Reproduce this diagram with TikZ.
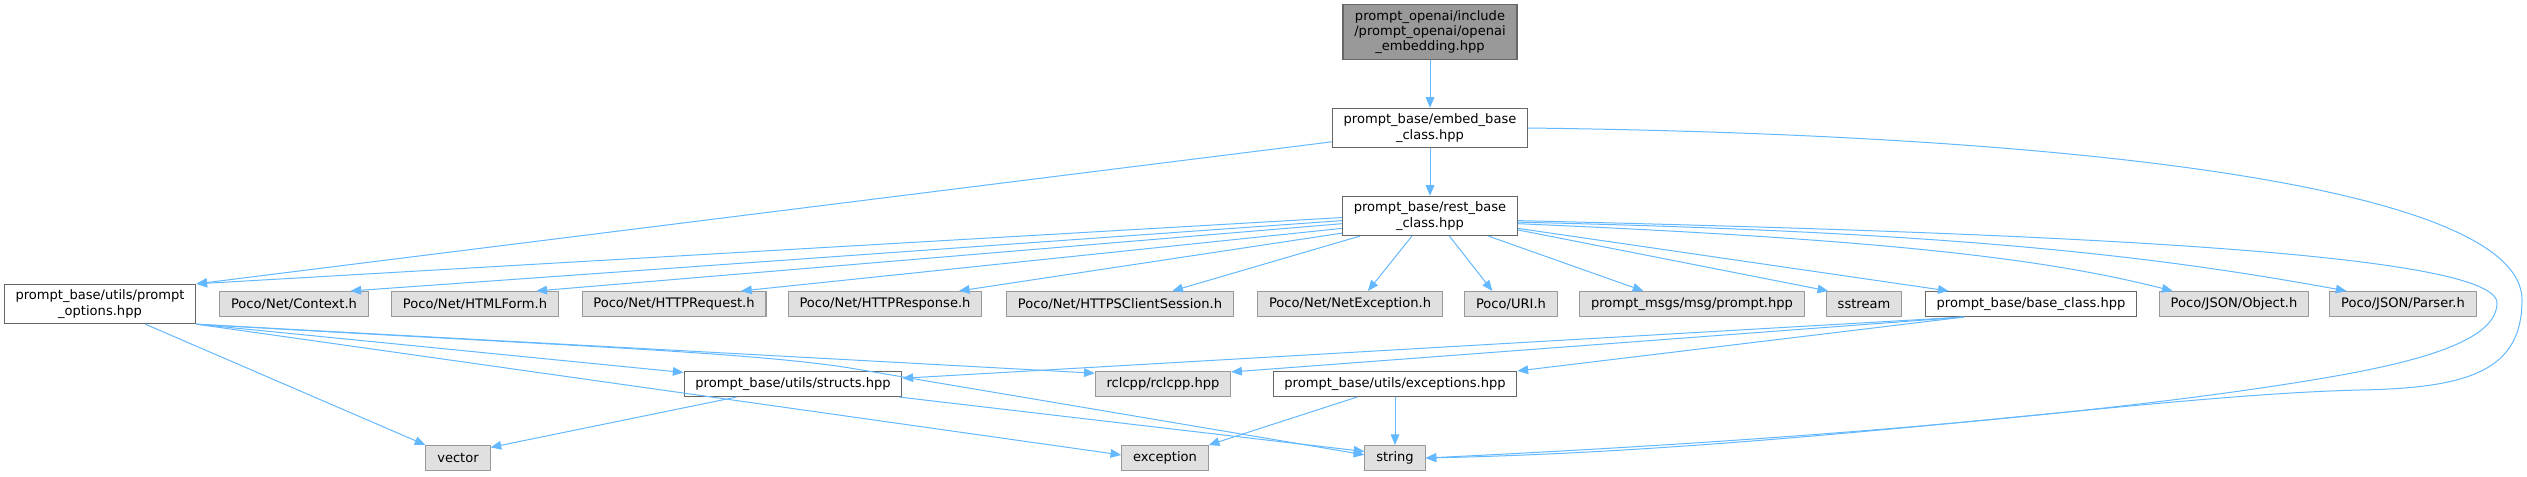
\documentclass[tikz,border=0pt]{standalone}
\usepackage{fontspec}
\setmainfont{DejaVu Sans}
\usepackage{xcolor}
\usepackage{tikz}
\usetikzlibrary{arrows.meta}
\definecolor{edgeblue}{HTML}{63B8FF}
\definecolor{sysfill}{HTML}{E0E0E0}
\definecolor{sysline}{HTML}{999999}
\definecolor{fileline}{HTML}{666666}
\definecolor{rootfill}{HTML}{999999}
\tikzset{ file_box/.style = {rectangle, draw=fileline, fill=white, line width=0.8pt, align=center, inner xsep=8.5pt, inner ysep=4.1pt, minimum height=18.75pt, font=\fontsize{9.8}{11.5}\selectfont} }
\tikzset{ sys_box/.style = {file_box, draw=sysline, fill=sysfill} }
\tikzset{ root_box/.style = {file_box, fill=rootfill} }
\tikzset{ dep/.style = {draw=edgeblue, line width=0.75pt, -{Triangle[length=8pt,width=6.5pt]}} }

\begin{document}
\begin{tikzpicture}[x=0.75pt, y=-0.75pt]
                        \useasboundingbox (0,0) rectangle (2527,476);
                        \node[root_box] (0) at (1430, 32) {prompt\_openai/include\\/prompt\_openai/openai\\\_embedding.hpp};
                        \node[file_box] (1) at (1430, 128) {prompt\_base/embed\_base\\\_class.hpp};
                        \node[file_box] (2) at (100, 304) {prompt\_base/utils/prompt\\\_options.hpp};
                        \node[sys_box] (3) at (1395, 458) {string};
                        \node[file_box] (4) at (1430, 216) {prompt\_base/rest\_base\\\_class.hpp};
                        \node[sys_box] (5) at (294, 304) {Poco/Net/Context.h};
                        \node[sys_box] (6) at (475, 304) {Poco/Net/HTMLForm.h};
                        \node[sys_box] (7) at (674, 304) {Poco/Net/HTTPRequest.h};
                        \node[sys_box] (8) at (885, 304) {Poco/Net/HTTPResponse.h};
                        \node[sys_box] (9) at (1120, 304) {Poco/Net/HTTPSClientSession.h};
                        \node[sys_box] (10) at (1350, 304) {Poco/Net/NetException.h};
                        \node[sys_box] (11) at (1511, 304) {Poco/URI.h};
                        \node[sys_box] (12) at (1692, 304) {prompt\_msgs/msg/prompt.hpp};
                        \node[sys_box] (13) at (1864, 304) {sstream};
                        \node[file_box] (14) at (2031, 304) {prompt\_base/base\_class.hpp};
                        \node[sys_box] (15) at (2234, 304) {Poco/JSON/Object.h};
                        \node[sys_box] (16) at (2403, 304) {Poco/JSON/Parser.h};
                        \node[file_box] (17) at (793, 384) {prompt\_base/utils/structs.hpp};
                        \node[sys_box] (18) at (1163, 384) {rclcpp/rclcpp.hpp};
                        \node[file_box] (19) at (1395, 384) {prompt\_base/utils/exceptions.hpp};
                        \node[sys_box] (20) at (458, 458) {vector};
                        \node[sys_box] (21) at (1165, 458) {exception};
                        \draw[dep] (0) -- (1);
                        \draw[dep] (1) -- (4);
                        \draw[dep] (1.188) -- (2.north east);
                        \draw[dep] (1.east) .. controls (2100,135) and (2522,190) .. (2522,300) .. controls (2522,370) and (2470,388) .. (2360,390) .. controls (2150,395) and (1800,450) .. (3.east);
                        \draw[dep] (4.181) -- (2.north east);
                        \draw[dep] (4.183) -- (5.13);
                        \draw[dep] (4.185) -- (6.12);
                        \draw[dep] (4.188) -- (7.11);
                        \draw[dep] (4.191) -- (8.10);
                        \draw[dep] (4.196) -- (9.14);
                        \draw[dep] (4.228) -- (10.36);
                        \draw[dep] (4.314) -- (11.145);
                        \draw[dep] (4.341) -- (12.165);
                        \draw[dep] (4.351) -- (13.160);
                        \draw[dep] (4.352) -- (14.171);
                        \draw[dep] (4.355) .. controls (1900,240) and (2050,260) .. (15.168);
                        \draw[dep] (4.356) .. controls (1950,232) and (2150,255) .. (16.167);
                        \draw[dep] (4.357) .. controls (2000,232) and (2497,250) .. (2497,303) .. controls (2497,345) and (2400,366) .. (2300,382) .. controls (2100,414) and (1800,440) .. (3.east);
                        \draw[dep] (2.336) -- (20.north west);
                        \draw[dep] (2.south east) -- (17.174);
                        \draw[dep] (2.south east) -- (18.171);
                        \draw[dep] (2.south east) -- (21.176);
                        \draw[dep] (2.south east) .. controls (550,345) and (750,352) .. (850,368) -- (3.174);
                        \draw[dep] (17.193) -- (20.18);
                        \draw[dep] (17.353) -- (3.168);
                        \draw[dep] (14.191) -- (17.3);
                        \draw[dep] (14.191) -- (18.10);
                        \draw[dep] (14.191) -- (19.north east);
                        \draw[dep] (19.199) -- (21.north east);
                        \draw[dep] (19) -- (3);
                \end{tikzpicture}
\end{document}
